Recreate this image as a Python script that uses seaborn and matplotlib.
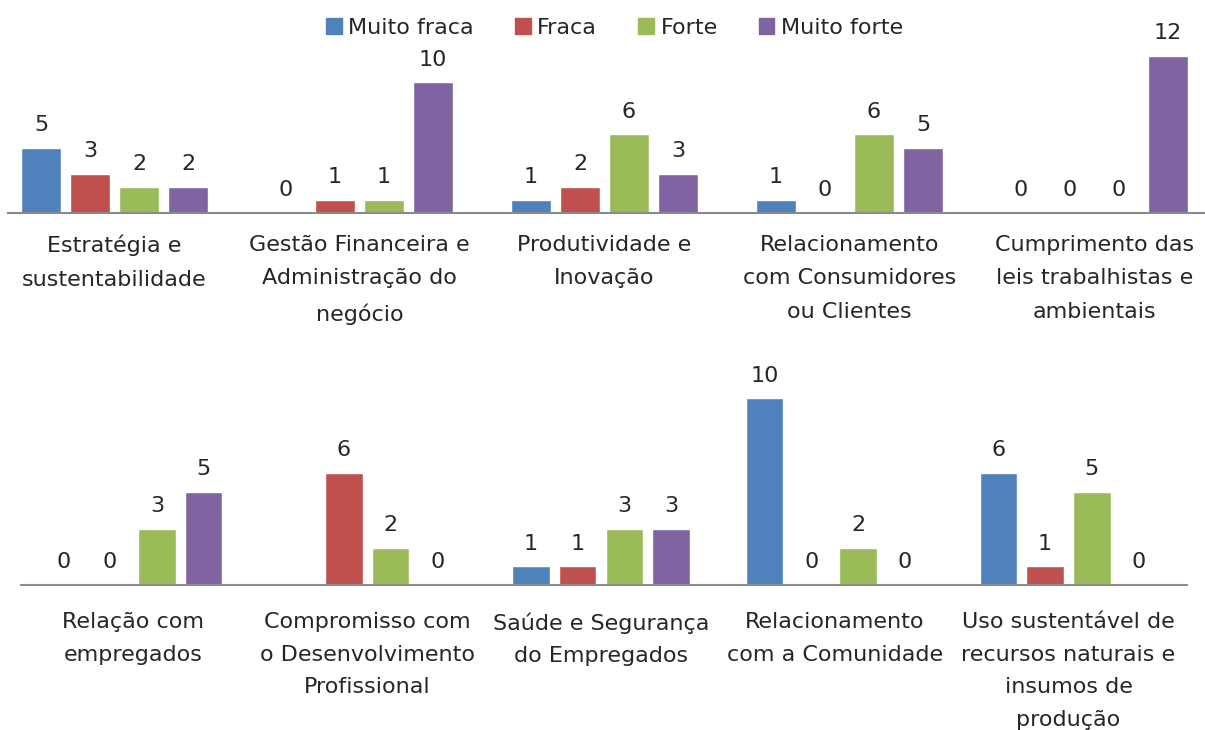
import numpy as np
import pandas as pd
import matplotlib
matplotlib.use("Agg")
import matplotlib.pyplot as plt
import seaborn as sns

# -------------------------------
# DATA
# -------------------------------

series = ["Muito fraca", "Fraca", "Forte", "Muito forte"]
colors = ["#4F81BD", "#C0504D", "#9BBB59", "#8064A2"]

top_categories = [
    "Estratégia e\nsustentabilidade",
    "Gestão Financeira e\nAdministração do\nnegócio",
    "Produtividade e\nInovação",
    "Relacionamento\ncom Consumidores\nou Clientes",
    "Cumprimento das\nleis trabalhistas e\nambientais",
]
top_muito_fraca = [5, 0, 1, 1, 0]
top_fraca = [3, 1, 2, 0, 0]
top_forte = [2, 1, 6, 6, 0]
top_muito_forte = [2, 10, 3, 5, 12]

bottom_categories = [
    "Relação com\nempregados",
    "Compromisso com\no Desenvolvimento\nProfissional",
    "Saúde e Segurança\ndo Empregados",
    "Relacionamento\ncom a Comunidade",
    "Uso sustentável de\nrecursos naturais e\ninsumos de\nprodução",
]
bottom_muito_fraca = [0, np.nan, 1, 10, 6]
bottom_fraca = [0, 6, 1, 0, 1]
bottom_forte = [3, 2, 3, 2, 5]
bottom_muito_forte = [5, 0, 3, 0, 0]


def to_long(categories, cols):
    rows = []
    for s, vals in zip(series, cols):
        for c, v in zip(categories, vals):
            rows.append({"categoria": c, "nivel": s, "valor": v})
    return pd.DataFrame(rows)


df_top = to_long(top_categories,
                 [top_muito_fraca, top_fraca, top_forte, top_muito_forte])
df_bottom = to_long(bottom_categories,
                    [bottom_muito_fraca, bottom_fraca, bottom_forte, bottom_muito_forte])

# -------------------------------
# PLOT
# -------------------------------

sns.set_theme(style="white")
plt.rcParams["font.family"] = ["DejaVu Sans"]
text_color = "#262626"

fig = plt.figure(figsize=(12.05, 7.3), dpi=100)

W, H = 1205.0, 730.0
ax_top = fig.add_axes([8 / W, (H - 213) / H, 1197 / W, 157 / H])
ax_bot = fig.add_axes([21 / W, (H - 585) / H, 1166 / W, 187 / H])

# (axes, data, categories, y max, x limits, label pad, line spacing)
panels = [
    (ax_top, df_top, top_categories, 12, (-0.435, 4.451), 15.5, 1.87),
    (ax_bot, df_bottom, bottom_categories, 10, (-0.481, 4.507), 19.5, 1.79),
]

for ax, df, cats, ymax, xlim, pad, lsp in panels:
    sns.barplot(
        data=df, x="categoria", y="valor", hue="nivel",
        order=cats, hue_order=series, palette=colors,
        width=0.8, gap=0.2, errorbar=None, saturation=1,
        ax=ax,
    )
    for cont in ax.containers:
        ax.bar_label(cont, fmt="%g", padding=9, fontsize=16,
                     color=text_color, clip_on=False)
    ax.get_legend().remove()
    ax.set_ylim(0, ymax)
    ax.set_xlim(*xlim)
    ax.set_xlabel("")
    ax.set_ylabel("")
    ax.set_yticks([])
    ax.set_xticks(range(len(cats)))
    ax.set_xticklabels(cats, fontsize=16, color=text_color, linespacing=lsp)
    ax.tick_params(axis="x", length=0, pad=pad)
    for side in ["top", "left", "right"]:
        ax.spines[side].set_visible(False)
    ax.spines["bottom"].set_color("#8a8a8a")
    ax.spines["bottom"].set_linewidth(1.5)
    ax.patch.set_alpha(0)

handles = [plt.Rectangle((0, 0), 1, 1, color=c) for c in colors]
fig.legend(
    handles, series, loc="center", bbox_to_anchor=(0.51, 0.962),
    ncol=4, frameon=False, fontsize=16, handlelength=0.7, handleheight=0.7,
    handletextpad=0.3, columnspacing=1.85, labelcolor=text_color,
)

fig.savefig("out.png", dpi=100)
plt.close(fig)
